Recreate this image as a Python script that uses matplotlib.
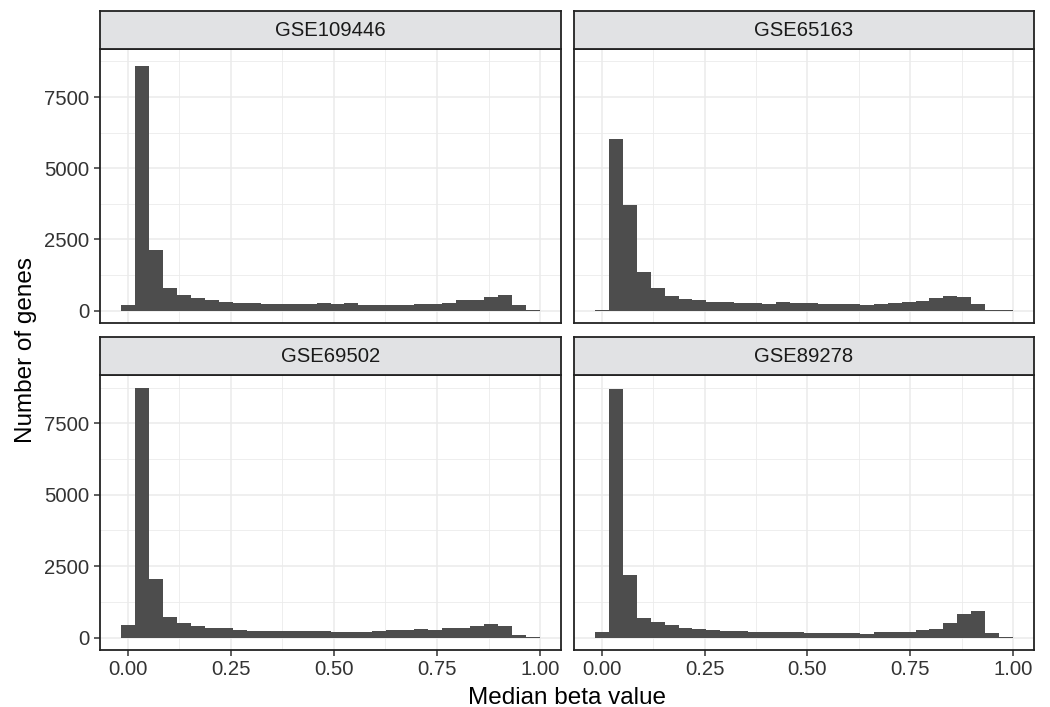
import numpy as np
import matplotlib
matplotlib.use("Agg")
import matplotlib.pyplot as plt

plt.rcParams['font.family'] = ['Liberation Sans', 'DejaVu Sans']

# histogram counts, 30 bins over the median beta value
datasets = ["GSE109446", "GSE65163", "GSE69502", "GSE89278"]
gse109446 = [200, 8600, 2120, 790, 550, 440, 370, 300, 270, 270, 235, 235, 235, 235, 270,
             235, 270, 200, 200, 200, 200, 235, 235, 270, 370, 370, 480, 550, 200, 25]
gse65163 = [25, 6030, 3720, 1350, 790, 510, 410, 370, 300, 300, 270, 270, 235, 300, 270,
            270, 235, 235, 235, 200, 235, 270, 300, 340, 440, 510, 480, 235, 25, 25]
gse69502 = [440, 8750, 2050, 720, 510, 410, 340, 340, 270, 235, 235, 235, 235, 235, 235,
            200, 200, 200, 235, 270, 270, 300, 270, 340, 340, 410, 480, 410, 90, 25]
gse89278 = [200, 8710, 2190, 690, 550, 440, 340, 300, 270, 235, 235, 200, 200, 200, 200,
            165, 165, 165, 165, 130, 200, 200, 200, 270, 300, 510, 830, 930, 165, 25]
counts = [gse109446, gse65163, gse69502, gse89278]

n_bins = 30
x_lo, x_hi = -0.0169, 1.0  # outer edges of the binned range
x_ticks = [0.0, 0.25, 0.5, 0.75, 1.0]
x_ticklabels = ["0.00", "0.25", "0.50", "0.75", "1.00"]
y_ticks = [0, 2500, 5000, 7500]

edges = np.linspace(x_lo, x_hi, n_bins + 1)
width = edges[1] - edges[0]
xr = x_hi - x_lo
xlim = (x_lo - 0.05 * xr, x_hi + 0.05 * xr)
ymax = max(max(c) for c in counts)
ylim = (-0.05 * ymax, 1.05 * ymax)

W, H = 1050, 707
fig = plt.figure(figsize=(W / 100, H / 100), dpi=100)

# panel boxes in pixels
cols = [(100, 561), (574, 1034)]
rows = [(49, 323), (375, 650)]
strip_h = 38

BAR = "#4D4D4D"
BORDER = "#222222"
GRID = "#EBEBEB"
SMALL = 14.6
BIG = 17.5

for i, name in enumerate(datasets):
    r, c = divmod(i, 2)
    x0, x1 = cols[c]
    y0, y1 = rows[r]
    ax = fig.add_axes([x0 / W, 1 - y1 / H, (x1 - x0) / W, (y1 - y0) / H])
    ax.bar(edges[:-1], counts[i], width=width, align='edge', color=BAR, linewidth=0, zorder=3)
    ax.set_xlim(xlim)
    ax.set_ylim(ylim)

    ax.set_xticks(x_ticks)
    ax.set_xticks(np.arange(0.125, 1.0, 0.25), minor=True)
    ax.set_yticks(y_ticks)
    ax.set_yticks([1250, 3750, 6250, 8750], minor=True)
    ax.grid(True, which='major', color=GRID, linewidth=1.1, zorder=0)
    ax.grid(True, which='minor', color=GRID, linewidth=0.6, zorder=0)
    ax.tick_params(which='minor', length=0)
    ax.tick_params(which='major', length=4.5, width=1.1, color="#333333",
                   labelsize=SMALL, labelcolor="#333333", pad=3)

    if r == 1:
        ax.set_xticklabels(x_ticklabels)
    else:
        ax.tick_params(axis='x', which='major', length=0, labelbottom=False)
    if c == 0:
        ax.set_yticklabels([str(v) for v in y_ticks])
    else:
        ax.tick_params(axis='y', which='major', length=0, labelleft=False)

    for s in ax.spines.values():
        s.set_color(BORDER)
        s.set_linewidth(1.3)
        s.set_zorder(5)

    # facet strip
    sax = fig.add_axes([x0 / W, 1 - y0 / H, (x1 - x0) / W, strip_h / H])
    sax.set_facecolor("#E1E2E4")
    sax.set_xticks([])
    sax.set_yticks([])
    for s in sax.spines.values():
        s.set_color(BORDER)
        s.set_linewidth(1.3)
    sax.text(0.5, 0.5, name, ha='center', va='center', fontsize=SMALL, color="#1A1A1A",
             transform=sax.transAxes)

fig.text(26 / W, 1 - 350 / H, "Number of genes", rotation=90, ha='center', va='center',
         fontsize=BIG, color="black")
fig.text(567 / W, 1 - 704 / H, "Median beta value", ha='center', va='baseline',
         fontsize=BIG, color="black")

fig.savefig("out.png", dpi=100)
